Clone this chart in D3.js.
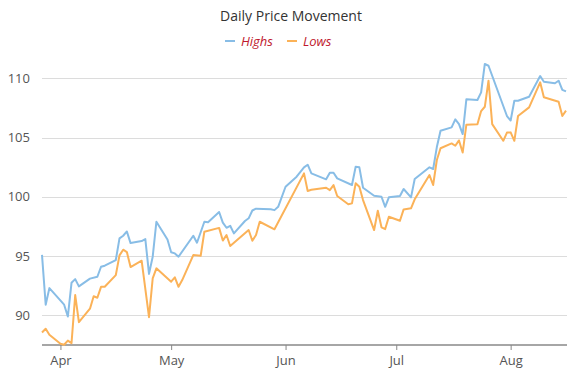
<!DOCTYPE html>
<html>
<head>
<meta charset="utf-8">
<script src="https://cdn.jsdelivr.net/npm/d3@7"></script>
<style>
  html, body { margin: 0; padding: 0; background: #fff; }
  svg { display: block; font-family: "Open Sans", "Segoe UI", sans-serif; }
</style>
</head>
<body>
<svg id="chart" width="582" height="375"></svg>
<script>
const title = "Daily Price Movement";
const seriesNames = ["Highs", "Lows"];
const seriesColors = ["#88bde6", "#fbb258"];

const highDates = ["2015-03-27","2015-03-28","2015-03-29","2015-04-02","2015-04-03","2015-04-04","2015-04-05","2015-04-06","2015-04-09","2015-04-11","2015-04-12","2015-04-13","2015-04-16","2015-04-17","2015-04-18","2015-04-19","2015-04-20","2015-04-23","2015-04-24","2015-04-25","2015-04-26","2015-04-27","2015-04-30","2015-05-01","2015-05-02","2015-05-03","2015-05-07","2015-05-08","2015-05-10","2015-05-11","2015-05-14","2015-05-15","2015-05-16","2015-05-17","2015-05-18","2015-05-21","2015-05-22","2015-05-23","2015-05-24","2015-05-28","2015-05-29","2015-05-30","2015-06-01","2015-06-04","2015-06-06","2015-06-07","2015-06-08","2015-06-12","2015-06-13","2015-06-14","2015-06-15","2015-06-19","2015-06-20","2015-06-21","2015-06-22","2015-06-25","2015-06-27","2015-06-28","2015-06-29","2015-07-02","2015-07-03","2015-07-05","2015-07-06","2015-07-10","2015-07-11","2015-07-12","2015-07-13","2015-07-16","2015-07-17","2015-07-18","2015-07-19","2015-07-20","2015-07-23","2015-07-24","2015-07-25","2015-07-26","2015-07-31","2015-08-01","2015-08-02","2015-08-03","2015-08-06","2015-08-09","2015-08-10","2015-08-13","2015-08-14","2015-08-15","2015-08-16"];
const highs = [95.1,90.9,92.3,90.9,89.9,92.75,93.06,92.45,93.1,93.26,94.1,94.19,94.67,96.5,96.72,97.08,96.1,96.27,96.44,93.5,94.95,97.9,96.4,95.32,95.23,94.95,96.72,96.13,97.9,97.85,98.72,97.83,97.39,97.56,96.92,97.96,98.19,98.85,99.0,98.95,98.88,99.16,100.85,101.7,102.49,102.71,101.98,101.48,102.03,102.03,101.56,101.0,102.54,102.49,100.77,100.09,100.01,99.16,99.96,100.07,100.66,99.96,101.5,102.49,102.35,104.2,105.58,105.86,106.54,106.14,105.3,108.23,108.17,108.82,111.21,111.06,106.82,106.44,108.11,108.11,108.45,110.19,109.71,109.58,109.8,109.03,108.9];

const lowDates = ["2015-03-27","2015-03-28","2015-03-29","2015-04-01","2015-04-02","2015-04-03","2015-04-04","2015-04-05","2015-04-06","2015-04-09","2015-04-10","2015-04-11","2015-04-12","2015-04-13","2015-04-16","2015-04-17","2015-04-18","2015-04-19","2015-04-20","2015-04-23","2015-04-25","2015-04-26","2015-04-27","2015-05-01","2015-05-02","2015-05-03","2015-05-04","2015-05-07","2015-05-09","2015-05-10","2015-05-14","2015-05-15","2015-05-16","2015-05-17","2015-05-22","2015-05-23","2015-05-24","2015-05-25","2015-05-29","2015-06-06","2015-06-07","2015-06-08","2015-06-12","2015-06-13","2015-06-14","2015-06-15","2015-06-18","2015-06-19","2015-06-20","2015-06-21","2015-06-22","2015-06-25","2015-06-26","2015-06-27","2015-06-28","2015-06-29","2015-07-02","2015-07-03","2015-07-05","2015-07-06","2015-07-10","2015-07-11","2015-07-12","2015-07-13","2015-07-16","2015-07-17","2015-07-18","2015-07-19","2015-07-20","2015-07-23","2015-07-24","2015-07-25","2015-07-26","2015-07-27","2015-07-30","2015-07-31","2015-08-01","2015-08-02","2015-08-03","2015-08-06","2015-08-09","2015-08-10","2015-08-14","2015-08-15","2015-08-16"];
const lows = [88.55,88.87,88.36,87.6,87.52,87.87,87.66,91.71,89.43,90.56,91.61,91.49,92.41,92.41,93.4,95.06,95.54,95.34,94.08,94.61,89.85,93.12,93.97,92.84,93.21,92.41,92.98,95.09,95.03,97.06,97.38,96.31,96.78,95.85,97.2,96.3,96.78,97.9,97.26,101.98,100.5,100.6,100.77,100.57,100.99,100.07,99.37,99.45,101.14,100.85,99.73,97.2,98.83,97.43,97.28,98.32,97.98,98.94,99.03,99.79,101.84,101.0,103.11,104.1,104.51,104.31,104.76,103.74,106.09,106.13,107.24,107.6,109.8,106.14,104.73,105.42,105.44,104.73,106.82,107.55,109.66,108.4,108.03,106.82,107.27];

const yTicks = [90, 95, 100, 105, 110];
const yDomain = [87.5, 112.5];
const xDomain = ["2015-03-27", "2015-08-16"];

const parse = d3.utcParse("%Y-%m-%d");
const svg = d3.select("#chart");

const plot = { left: 42, right: 566, top: 48.7, bottom: 345 };

const x = d3.scaleUtc().domain(xDomain.map(parse)).range([plot.left, plot.right]);
const y = d3.scaleLinear().domain(yDomain).range([plot.bottom, plot.top]);

// gridlines
svg.append("g").selectAll("line").data(yTicks).join("line")
  .attr("x1", plot.left).attr("x2", plot.right + 1)
  .attr("y1", d => Math.round(y(d)) + 0.5).attr("y2", d => Math.round(y(d)) + 0.5)
  .attr("stroke", "#dcdcdc").attr("stroke-width", 1);

// y labels
svg.append("g").selectAll("text").data(yTicks).join("text")
  .attr("x", 30).attr("y", d => y(d))
  .attr("dy", "0.35em")
  .attr("text-anchor", "end")
  .attr("font-size", 13).attr("fill", "#555")
  .text(d => d);

// x axis
const xAxis = d3.axisBottom(x)
  .ticks(d3.utcMonth.every(1))
  .tickFormat(d3.utcFormat("%b"))
  .tickSize(5).tickSizeOuter(0).tickPadding(6);
const gx = svg.append("g").attr("transform", `translate(0,${plot.bottom})`).call(xAxis);
gx.select(".domain").attr("stroke", "#888").attr("stroke-width", 1.5)
  .attr("d", `M${plot.left},0H${plot.right + 1}`);
gx.selectAll(".tick line").attr("stroke", "#888");
gx.selectAll(".tick text").attr("font-size", 13).attr("fill", "#555")
  .attr("font-family", "Open Sans, sans-serif");

// lines
const series = [
  { name: seriesNames[0], color: seriesColors[0], pts: highDates.map((d, i) => [parse(d), highs[i]]) },
  { name: seriesNames[1], color: seriesColors[1], pts: lowDates.map((d, i) => [parse(d), lows[i]]) }
];
const line = d3.line().x(d => x(d[0])).y(d => y(d[1]));
svg.append("g").selectAll("path").data(series).join("path")
  .attr("d", d => line(d.pts))
  .attr("fill", "none")
  .attr("stroke", d => d.color)
  .attr("stroke-width", 2)
  .attr("stroke-linejoin", "round");

// title
svg.append("text").attr("x", 291).attr("y", 21)
  .attr("text-anchor", "middle").attr("font-size", 14).attr("fill", "#333")
  .text(title);

// legend
const legend = svg.append("g").attr("transform", "translate(0,41)");
const legendX = [225, 287];
series.forEach((s, i) => {
  const g = legend.append("g").attr("transform", `translate(${legendX[i]},0)`);
  g.append("line").attr("x1", 0).attr("x2", 10).attr("y1", 0).attr("y2", 0)
    .attr("stroke", s.color).attr("stroke-width", 2);
  g.append("text").attr("x", 16).attr("y", 0).attr("dy", "0.35em")
    .attr("font-size", 13).attr("font-style", "italic").attr("fill", "#c0182e")
    .text(s.name);
});
</script>
</body>
</html>
